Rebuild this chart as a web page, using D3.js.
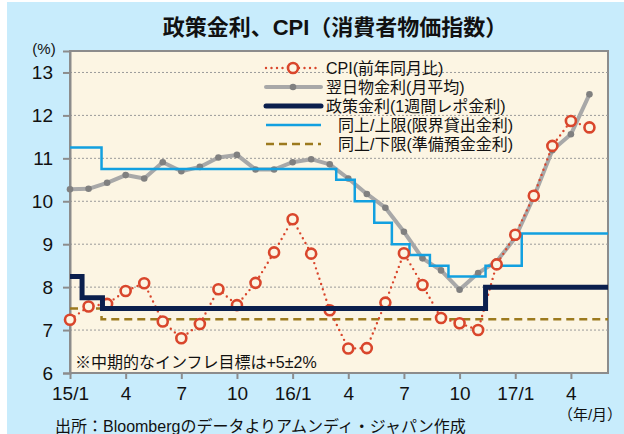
<!DOCTYPE html>
<html>
<head>
<meta charset="utf-8">
<script src="https://cdn.jsdelivr.net/npm/d3@7"></script>
<style>
  body { margin: 0; background: #fff; }
  text { font-family: "Liberation Sans", Arial, "Noto Sans CJK JP", sans-serif; fill: #111; }
</style>
</head>
<body>
<div id="chart"></div>
<script>
// month index 0 = 2015/1
const tickMonths = [0, 3, 6, 9, 12, 15, 18, 21, 24, 27];
const tickLabels = ["15/1", "4", "7", "10", "16/1", "4", "7", "10", "17/1", "4"];
const yTicks = [6, 7, 8, 9, 10, 11, 12, 13];

// CPI (yoy, %) 2015/1 - 2017/5
const cpi = [7.24, 7.55, 7.61, 7.91, 8.09, 7.20, 6.81, 7.14, 7.95, 7.58, 8.10, 8.81,
  9.58, 8.78, 7.46, 6.57, 6.58, 7.64, 8.79, 8.05, 7.28, 7.16, 7.00, 8.53,
  9.22, 10.13, 11.29, 11.87, 11.72];
// overnight rate (monthly avg)
const overnight = [10.28, 10.29, 10.43, 10.61, 10.53, 10.91, 10.70, 10.80, 11.02, 11.08, 10.74, 10.74,
  10.91, 10.98, 10.86, 10.53, 10.17, 9.85, 9.29, 8.67, 8.39, 7.94, 8.33, 8.60,
  9.15, 10.1, 11.19, 11.56, 12.49];

// step series: change points (month position) and levels
const policyAt = [0, 0.65, 1.75, 22.4];
const policyRate = [8.25, 7.75, 7.5, 8.0];
const upperAt = [0, 1.7, 14.35, 15.35, 16.4, 17.35, 18.3, 19.4, 20.4, 22.4, 24.35];
const upperRate = [11.25, 10.75, 10.5, 10.0, 9.5, 9.0, 8.75, 8.5, 8.25, 8.5, 9.25];
const lowerAt = [0, 1.7];
const lowerRate = [7.5, 7.25];

const legendLabels = ["CPI(前年同月比)", "翌日物金利(月平均)", "政策金利(1週間レポ金利)",
  "同上/上限(限界貸出金利)", "同上/下限(準備預金金利)"];

const W = 624, H = 434;
const pLeft = 70, pRight = 608, pTop = 51, pBottom = 373;
const xEnd = 29;

const svg = d3.select("#chart").append("svg")
  .attr("width", W).attr("height", H);

svg.append("rect").attr("x", 7).attr("y", 2).attr("width", W - 7).attr("height", H - 2)
  .attr("fill", "#c8ecfc");

const x = d3.scaleLinear().domain([0, xEnd]).range([pLeft, pRight]);
const y = d3.scaleLinear().domain([6, 13.5]).range([pBottom, pTop]);

// plot area
svg.append("rect")
  .attr("x", pLeft).attr("y", pTop).attr("width", pRight - pLeft).attr("height", pBottom - pTop)
  .attr("fill", "#fcf5e3").attr("stroke", "#8c8c8c").attr("stroke-width", 2);

// grid
svg.append("g").selectAll("line")
  .data(yTicks.filter(d => d > 6))
  .enter().append("line")
  .attr("x1", pLeft).attr("x2", pRight)
  .attr("y1", d => y(d)).attr("y2", d => y(d))
  .attr("stroke", "#9a9a9a").attr("stroke-width", 1).attr("stroke-dasharray", "2,2");

// y axis
const yAxis = svg.append("g")
  .attr("transform", `translate(${pLeft},0)`)
  .call(d3.axisLeft(y).tickValues(yTicks).tickSize(7).tickPadding(10).tickFormat(d3.format("d")));
yAxis.select(".domain").attr("stroke", "#8c8c8c").attr("stroke-width", 2);
yAxis.selectAll(".tick line").attr("stroke", "#8c8c8c").attr("stroke-width", 2);
yAxis.selectAll(".tick text").attr("font-size", 19).attr("fill", "#111")
  .attr("font-family", "Liberation Sans, Arial, sans-serif");

// x axis
const xAxis = svg.append("g")
  .attr("transform", `translate(0,${pBottom})`)
  .call(d3.axisBottom(x).tickValues(tickMonths).tickSize(6).tickPadding(8)
    .tickFormat((d, i) => tickLabels[i]));
xAxis.select(".domain").remove();
xAxis.selectAll(".tick line").attr("stroke", "#8c8c8c").attr("stroke-width", 2);
xAxis.selectAll(".tick text").attr("font-size", 19).attr("fill", "#111")
  .attr("font-family", "Liberation Sans, Arial, sans-serif");

svg.append("text").attr("x", 44).attr("y", 54).attr("text-anchor", "middle")
  .attr("font-size", 15).text("(%)");

// step helper
function steps(at, vals) {
  const pts = at.map((t, i) => [t, vals[i]]);
  pts.push([xEnd, vals[vals.length - 1]]);
  return pts;
}
const stepLine = d3.line().x(d => x(d[0])).y(d => y(d[1])).curve(d3.curveStepAfter);
const line = d3.line().x((d, i) => x(i)).y(d => y(d));

// lower bound
svg.append("path").datum(steps(lowerAt, lowerRate))
  .attr("d", stepLine).attr("fill", "none")
  .attr("stroke", "#9c7a1e").attr("stroke-width", 2.5).attr("stroke-dasharray", "8,5");

// overnight
svg.append("path").datum(overnight)
  .attr("d", line).attr("fill", "none")
  .attr("stroke", "#a8a8a8").attr("stroke-width", 4).attr("stroke-linejoin", "round");
svg.append("g").selectAll("circle").data(overnight).enter().append("circle")
  .attr("cx", (d, i) => x(i)).attr("cy", d => y(d)).attr("r", 3.3).attr("fill", "#808080");

// upper bound
svg.append("path").datum(steps(upperAt, upperRate))
  .attr("d", stepLine).attr("fill", "none")
  .attr("stroke", "#12a0e0").attr("stroke-width", 2.5);

// CPI
svg.append("path").datum(cpi)
  .attr("d", line).attr("fill", "none")
  .attr("stroke", "#d9462c").attr("stroke-width", 2.4)
  .attr("stroke-dasharray", "0,5.5").attr("stroke-linecap", "round");
svg.append("g").selectAll("circle").data(cpi).enter().append("circle")
  .attr("cx", (d, i) => x(i)).attr("cy", d => y(d)).attr("r", 5)
  .attr("fill", "#fcf5e3").attr("stroke", "#d9462c").attr("stroke-width", 2.6);

// policy rate
svg.append("path").datum(steps(policyAt, policyRate))
  .attr("d", stepLine).attr("fill", "none")
  .attr("stroke", "#0b1f4d").attr("stroke-width", 5);

// legend
const lx1 = 266, lx2 = 321, lmid = 293;
const rowY = [68, 87, 106, 125, 144];
const leg = svg.append("g");
leg.append("line").attr("x1", lx1).attr("x2", lx2).attr("y1", rowY[0]).attr("y2", rowY[0])
  .attr("stroke", "#d9462c").attr("stroke-width", 2.4)
  .attr("stroke-dasharray", "0,5.5").attr("stroke-linecap", "round");
leg.append("circle").attr("cx", lmid).attr("cy", rowY[0]).attr("r", 5)
  .attr("fill", "#fcf5e3").attr("stroke", "#d9462c").attr("stroke-width", 2.6);
leg.append("line").attr("x1", lx1).attr("x2", lx2).attr("y1", rowY[1]).attr("y2", rowY[1])
  .attr("stroke", "#a8a8a8").attr("stroke-width", 4).attr("stroke-linecap", "round");
leg.append("circle").attr("cx", lmid).attr("cy", rowY[1]).attr("r", 3.3).attr("fill", "#808080");
leg.append("line").attr("x1", lx1).attr("x2", lx2).attr("y1", rowY[2]).attr("y2", rowY[2])
  .attr("stroke", "#0b1f4d").attr("stroke-width", 5).attr("stroke-linecap", "round");
leg.append("line").attr("x1", lx1).attr("x2", lx2).attr("y1", rowY[3]).attr("y2", rowY[3])
  .attr("stroke", "#12a0e0").attr("stroke-width", 2.5);
leg.append("line").attr("x1", lx1).attr("x2", lx2).attr("y1", rowY[4]).attr("y2", rowY[4])
  .attr("stroke", "#9c7a1e").attr("stroke-width", 2.5).attr("stroke-dasharray", "8,5");
leg.selectAll("text").data(legendLabels).enter().append("text")
  .attr("x", (d, i) => i < 3 ? 326 : 338)
  .attr("y", (d, i) => rowY[i]).attr("dy", "0.36em")
  .attr("font-size", 16).text(d => d);

// title & notes
svg.append("text").attr("x", 335).attr("y", 27).attr("dy", "0.36em").attr("text-anchor", "middle")
  .attr("font-size", 22).attr("font-weight", "bold").text("政策金利、CPI（消費者物価指数）");
svg.append("text").attr("x", 75).attr("y", 362).attr("dy", "0.36em")
  .attr("font-size", 16).text("※中期的なインフレ目標は+5±2%");
svg.append("text").attr("x", 590).attr("y", 415).attr("dy", "0.36em").attr("text-anchor", "middle")
  .attr("font-size", 15).text("（年/月）");
svg.append("text").attr("x", 55).attr("y", 426).attr("dy", "0.36em")
  .attr("font-size", 16).text("出所：Bloombergのデータよりアムンディ・ジャパン作成");
</script>
</body>
</html>
